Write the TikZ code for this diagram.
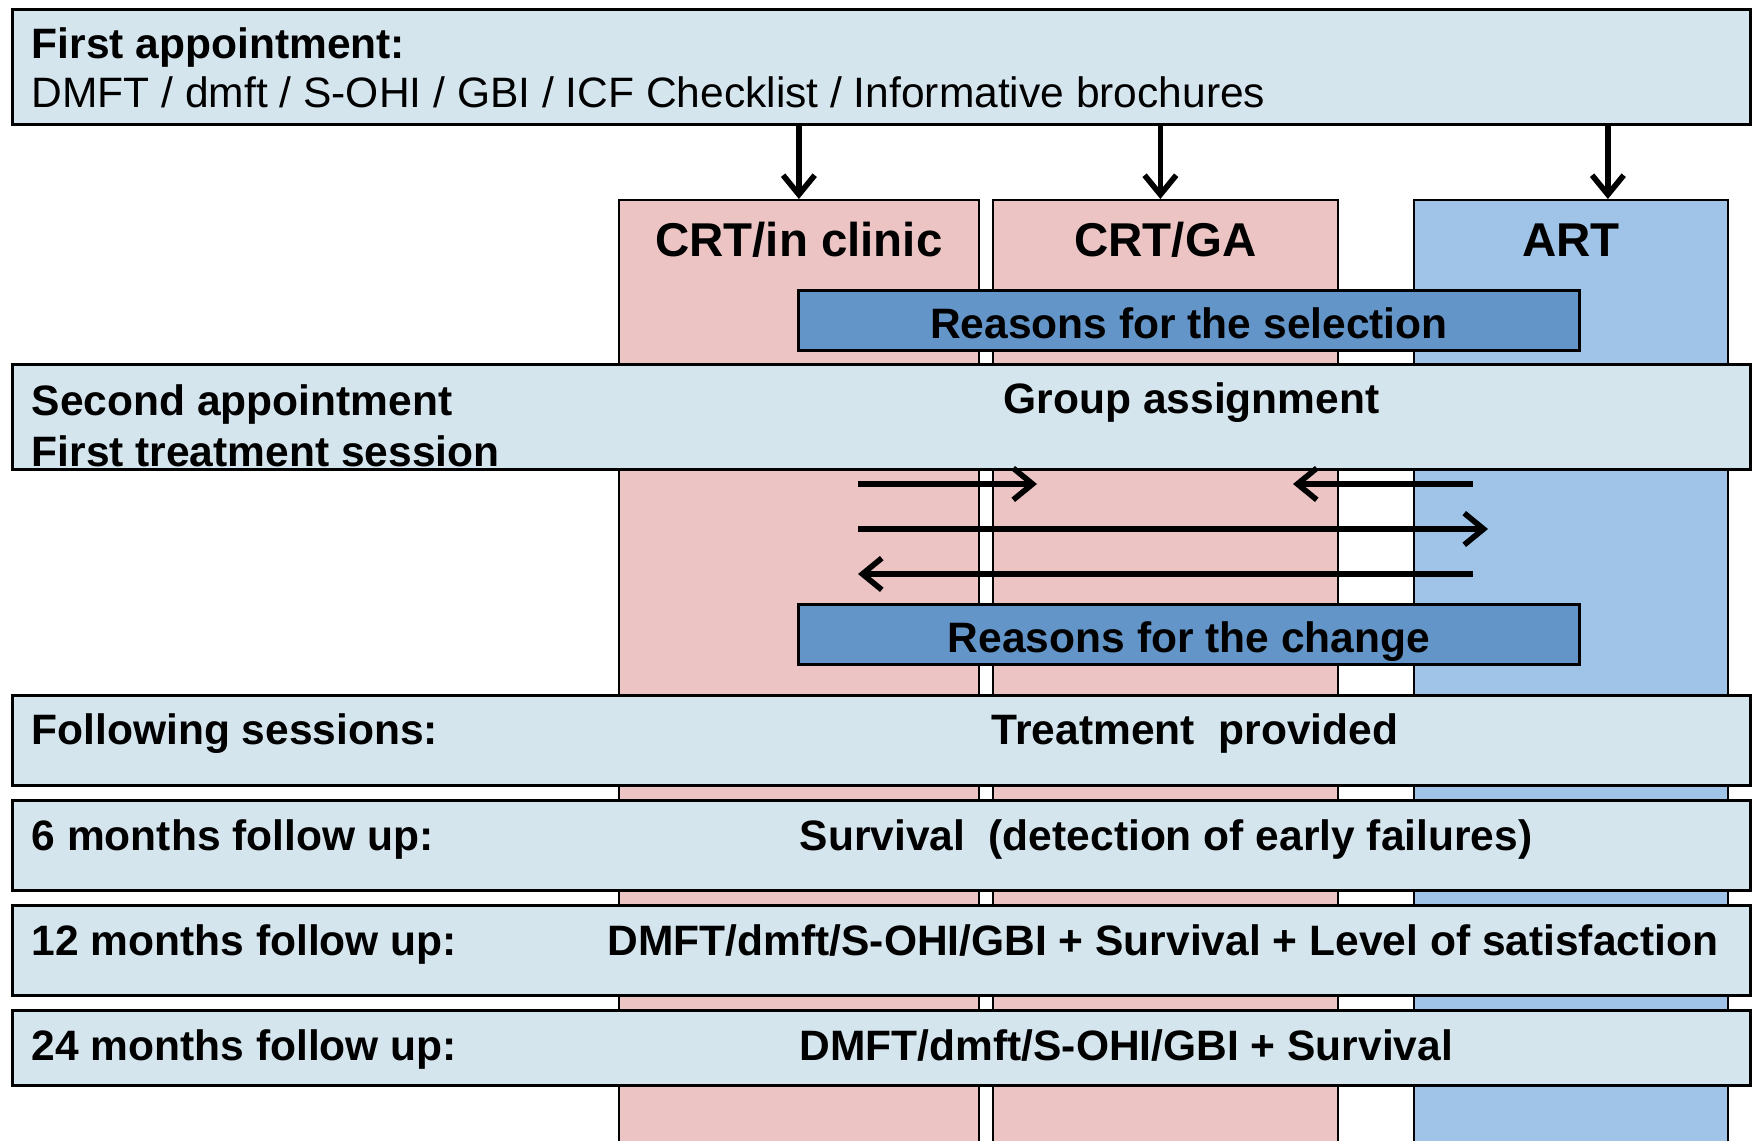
\documentclass[tikz,border=0pt]{standalone}
\usepackage{fontspec}
\setmainfont{Liberation Sans}
\usepackage{tikz}
\usetikzlibrary{arrows.meta, positioning, calc}
\definecolor{phasefill}{RGB}{213,229,238}
\definecolor{crtfill}{RGB}{236,196,196}
\definecolor{artfill}{RGB}{160,195,232}
\definecolor{reasonfill}{RGB}{99,149,200}
\tikzset{
  phase/.style={rectangle, draw=black, fill=phasefill, anchor=north west,
    minimum width=17.38cm, inner sep=0pt, line width=0.8pt},
  column/.style={rectangle, draw=black, anchor=north west,
    minimum height=9.6cm, inner sep=0pt, line width=0.5pt},
  reason/.style={rectangle, draw=black, fill=reasonfill, anchor=north west,
    minimum width=7.81cm, minimum height=0.6cm, inner sep=0pt, line width=0.8pt},
  lbl/.style={anchor=base west, inner sep=0pt, font=\fontsize{12.1}{14}\selectfont\bfseries},
  coltitle/.style={anchor=base, inner sep=0pt, font=\fontsize{13.5}{16}\selectfont\bfseries},
  arrow/.style={-{Straight Barb[length=5.5pt, width=9pt]}, line width=1.6pt}
}

\begin{document}
\begin{tikzpicture}
  \useasboundingbox (0,0) rectangle (17.52,-11.41);
  \node[column, fill=crtfill, minimum width=3.60cm] (crtc) at (6.18,-1.99) {};
  \node[column, fill=crtfill, minimum width=3.45cm] (crtga) at (9.92,-1.99) {};
  \node[column, fill=artfill, minimum width=3.14cm] (art) at (14.13,-1.99) {};
  \node[coltitle] (crtcT) at ($(crtc.north)+(0,-0.58)$) {CRT/in clinic};
  \node[coltitle] (crtgaT) at ($(crtga.north)+(0,-0.58)$) {CRT/GA};
  \node[coltitle] (artT) at ($(art.north)+(0,-0.58)$) {ART};

  \node[phase, minimum height=1.15cm] (first) at (0.11,-0.08) {};
  \node[lbl] (firstA) at (0.31,-0.59) {First appointment:};
  \node[lbl, font=\fontsize{12.1}{14}\selectfont] (firstB) at (0.31,-1.08)
    {DMFT / dmft / S-OHI / GBI / ICF Checklist / Informative brochures};

  \node[reason] (select) at (7.97,-2.89) {};
  \node[lbl, anchor=base] (selectT) at (11.89,-3.39) {Reasons for the selection};

  \node[phase, minimum height=1.05cm] (second) at (0.11,-3.63) {};
  \node[lbl] (secondA) at (0.31,-4.16) {Second appointment};
  \node[lbl] (secondB) at (0.31,-4.67) {First treatment session};
  \node[lbl] (group) at (10.03,-4.14) {Group assignment};

  \coordinate (s1) at (8.58,-4.84);
  \coordinate (e1) at (10.37,-4.84);
  \coordinate (s2) at (14.73,-4.84);
  \coordinate (e2) at (12.93,-4.84);
  \coordinate (s3) at (8.58,-5.29);
  \coordinate (e3) at (14.88,-5.29);
  \coordinate (s4) at (14.73,-5.74);
  \coordinate (e4) at (8.58,-5.74);

  \node[reason] (change) at (7.97,-6.03) {};
  \node[lbl, anchor=base] (changeT) at (11.89,-6.53) {Reasons for the change};

  \node[phase, minimum height=0.90cm] (follow) at (0.11,-6.94) {};
  \node[lbl] (followA) at (0.31,-7.45) {Following sessions:};
  \node[lbl] (followB) at (9.91,-7.45) {Treatment~ provided};

  \node[phase, minimum height=0.90cm] (six) at (0.11,-7.99) {};
  \node[lbl] (sixA) at (0.31,-8.50) {6 months follow up:};
  \node[lbl] (sixB) at (7.99,-8.50) {Survival~ (detection of early failures)};

  \node[phase, minimum height=0.90cm] (twelve) at (0.11,-9.04) {};
  \node[lbl] (twelveA) at (0.31,-9.55) {12 months follow up:};
  \node[lbl] (twelveB) at (6.07,-9.55) {DMFT/dmft/S-OHI/GBI + Survival + Level of satisfaction};

  \node[phase, minimum height=0.75cm] (tfour) at (0.11,-10.09) {};
  \node[lbl] (tfourA) at (0.31,-10.60) {24 months follow up:};
  \node[lbl] (tfourB) at (7.99,-10.60) {DMFT/dmft/S-OHI/GBI + Survival};

  \draw[arrow] (first.south -| crtc.north) -- (crtc.north);
  \draw[arrow] ([xshift=-0.05cm]first.south -| crtga.north) -- ([xshift=-0.05cm]crtga.north);
  \draw[arrow] ([xshift=0.37cm]first.south -| art.north) -- ([xshift=0.37cm]art.north);
  \draw[arrow] (s1) -- (e1);
  \draw[arrow] (s2) -- (e2);
  \draw[arrow] (s3) -- (e3);
  \draw[arrow] (s4) -- (e4);
\end{tikzpicture}
\end{document}
